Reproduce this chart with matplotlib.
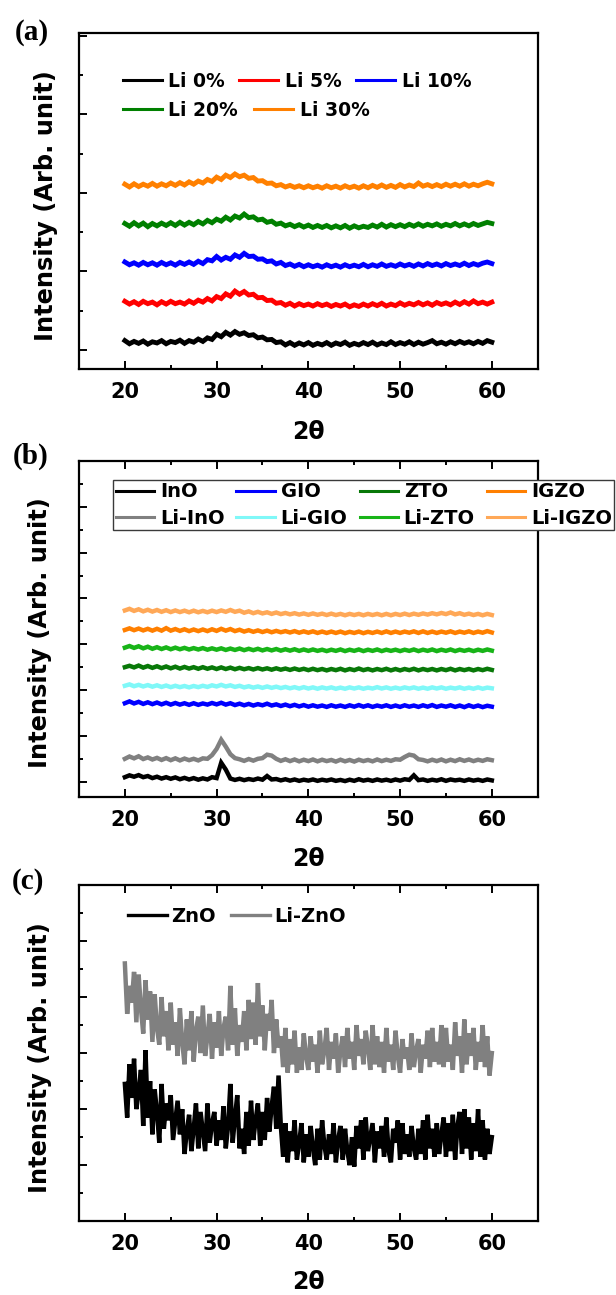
import numpy as np
import matplotlib
matplotlib.use('Agg')
import matplotlib.pyplot as plt
from matplotlib.ticker import FixedLocator, NullFormatter

# ---------------- data ----------------
two_theta_ab = np.linspace(20, 60, 81)    # 0.5 deg sampling for panels (a), (b)
two_theta_c = np.linspace(20, 60, 161)    # 0.25 deg sampling for panel (c)

labels_a = ['Li 0%', 'Li 5%', 'Li 10%', 'Li 20%', 'Li 30%']
colors_a = ['#000000', '#FF0000', '#0000FF', '#008000', '#FF8000']

li0 = [0.24, 0.16, 0.22, 0.17, 0.23, 0.15, 0.21, 0.18, 0.24, 0.16,
       0.22, 0.19, 0.25, 0.17, 0.24, 0.20, 0.28, 0.22, 0.31, 0.27,
       0.40, 0.34, 0.45, 0.38, 0.47, 0.40, 0.44, 0.37, 0.39, 0.31,
       0.33, 0.26, 0.27, 0.19, 0.21, 0.13, 0.19, 0.12, 0.18, 0.13,
       0.19, 0.12, 0.17, 0.13, 0.19, 0.12, 0.18, 0.14, 0.20, 0.12,
       0.17, 0.13, 0.19, 0.14, 0.20, 0.13, 0.18, 0.14, 0.21, 0.14,
       0.19, 0.15, 0.21, 0.14, 0.20, 0.15, 0.19, 0.24, 0.16, 0.20,
       0.15, 0.21, 0.16, 0.22, 0.17, 0.21, 0.16, 0.22, 0.17, 0.24,
       0.20]
li5 = [1.24, 1.17, 1.23, 1.16, 1.24, 1.18, 1.22, 1.15, 1.23, 1.17,
       1.24, 1.18, 1.22, 1.17, 1.25, 1.19, 1.27, 1.22, 1.31, 1.25,
       1.36, 1.31, 1.43, 1.37, 1.50, 1.42, 1.49, 1.40, 1.42, 1.33,
       1.34, 1.26, 1.27, 1.19, 1.21, 1.14, 1.19, 1.12, 1.18, 1.13,
       1.17, 1.12, 1.18, 1.13, 1.17, 1.11, 1.16, 1.12, 1.17, 1.10,
       1.15, 1.11, 1.17, 1.12, 1.18, 1.13, 1.19, 1.12, 1.17, 1.13,
       1.20, 1.14, 1.19, 1.15, 1.21, 1.15, 1.20, 1.14, 1.21, 1.16,
       1.20, 1.15, 1.22, 1.16, 1.23, 1.17, 1.25, 1.18, 1.22, 1.17,
       1.22]
li10 = [2.24, 2.17, 2.22, 2.16, 2.23, 2.17, 2.22, 2.16, 2.23, 2.17,
        2.22, 2.16, 2.23, 2.18, 2.24, 2.18, 2.26, 2.20, 2.30, 2.27,
        2.38, 2.29, 2.36, 2.31, 2.42, 2.36, 2.46, 2.38, 2.39, 2.31,
        2.32, 2.25, 2.27, 2.19, 2.23, 2.15, 2.19, 2.13, 2.18, 2.12,
        2.17, 2.12, 2.16, 2.11, 2.17, 2.12, 2.16, 2.11, 2.17, 2.12,
        2.16, 2.12, 2.18, 2.12, 2.17, 2.13, 2.19, 2.13, 2.17, 2.13,
        2.19, 2.14, 2.18, 2.13, 2.19, 2.14, 2.20, 2.15, 2.19, 2.14,
        2.20, 2.15, 2.19, 2.15, 2.21, 2.15, 2.20, 2.16, 2.21, 2.24,
        2.20]
li20 = [3.22, 3.15, 3.24, 3.16, 3.23, 3.14, 3.22, 3.16, 3.23, 3.17,
        3.24, 3.17, 3.25, 3.18, 3.25, 3.19, 3.27, 3.21, 3.30, 3.24,
        3.33, 3.28, 3.38, 3.31, 3.41, 3.36, 3.46, 3.37, 3.39, 3.31,
        3.33, 3.25, 3.28, 3.20, 3.23, 3.16, 3.20, 3.14, 3.19, 3.13,
        3.18, 3.12, 3.17, 3.12, 3.17, 3.11, 3.16, 3.11, 3.17, 3.10,
        3.16, 3.11, 3.15, 3.12, 3.18, 3.13, 3.20, 3.13, 3.19, 3.14,
        3.19, 3.14, 3.20, 3.15, 3.21, 3.15, 3.20, 3.16, 3.21, 3.15,
        3.20, 3.16, 3.22, 3.16, 3.21, 3.16, 3.22, 3.17, 3.21, 3.25,
        3.22]
li30 = [4.22, 4.15, 4.23, 4.16, 4.22, 4.17, 4.24, 4.17, 4.23, 4.18,
        4.25, 4.19, 4.26, 4.20, 4.28, 4.22, 4.30, 4.25, 4.34, 4.29,
        4.40, 4.34, 4.45, 4.39, 4.48, 4.41, 4.45, 4.37, 4.39, 4.30,
        4.31, 4.24, 4.25, 4.18, 4.21, 4.15, 4.19, 4.14, 4.18, 4.13,
        4.18, 4.13, 4.17, 4.12, 4.18, 4.13, 4.17, 4.12, 4.18, 4.13,
        4.17, 4.12, 4.18, 4.13, 4.19, 4.14, 4.20, 4.14, 4.19, 4.14,
        4.21, 4.15, 4.20, 4.16, 4.25, 4.17, 4.21, 4.16, 4.21, 4.16,
        4.22, 4.17, 4.22, 4.17, 4.23, 4.17, 4.22, 4.18, 4.23, 4.27,
        4.23]

labels_b = ['InO', 'Li-InO', 'GIO', 'Li-GIO', 'ZTO', 'Li-ZTO', 'IGZO', 'Li-IGZO']
colors_b = ['#000000', '#808080', '#0000FF', '#80F8F8', '#087808', '#18B418', '#FF7F00', '#FFA857']

ino = [0.22, 0.30, 0.24, 0.31, 0.22, 0.27, 0.18, 0.24, 0.16, 0.22,
       0.15, 0.21, 0.13, 0.19, 0.12, 0.18, 0.11, 0.17, 0.12, 0.22,
       0.18, 0.85, 0.55, 0.16, 0.10, 0.15, 0.09, 0.14, 0.10, 0.16,
       0.11, 0.27, 0.12, 0.14, 0.08, 0.13, 0.07, 0.12, 0.06, 0.11,
       0.07, 0.12, 0.06, 0.11, 0.07, 0.12, 0.06, 0.10, 0.05, 0.11,
       0.06, 0.13, 0.07, 0.11, 0.06, 0.12, 0.07, 0.11, 0.06, 0.12,
       0.07, 0.13, 0.10, 0.30, 0.09, 0.12, 0.06, 0.11, 0.07, 0.13,
       0.06, 0.12, 0.08, 0.11, 0.06, 0.12, 0.07, 0.11, 0.06, 0.12,
       0.08]
li_ino = [1.02, 1.12, 1.04, 1.13, 1.01, 1.08, 0.99, 1.06, 0.97, 1.05,
          0.96, 1.04, 0.95, 1.03, 0.96, 1.02, 0.95, 1.04, 1.02, 1.18,
          1.45, 1.85, 1.55, 1.22, 1.05, 1.00, 0.93, 1.01, 0.94, 1.02,
          1.05, 1.20, 1.16, 1.02, 0.93, 1.00, 0.92, 0.99, 0.91, 0.98,
          0.92, 0.99, 0.91, 0.98, 0.92, 0.97, 0.90, 0.98, 0.91, 0.97,
          0.90, 0.98, 0.92, 0.97, 0.91, 0.99, 0.92, 0.98, 0.93, 1.00,
          0.98, 1.10, 1.20, 1.16, 1.00, 0.97, 0.91, 0.98, 0.92, 0.99,
          0.91, 0.98, 0.92, 1.00, 0.93, 0.99, 0.92, 0.98, 0.93, 1.00,
          0.96]
gio = [3.44, 3.52, 3.43, 3.50, 3.41, 3.48, 3.40, 3.47, 3.39, 3.46,
       3.38, 3.45, 3.38, 3.44, 3.37, 3.44, 3.37, 3.43, 3.38, 3.45,
       3.39, 3.46, 3.38, 3.44, 3.36, 3.42, 3.35, 3.41, 3.34, 3.40,
       3.35, 3.42, 3.34, 3.39, 3.32, 3.38, 3.31, 3.37, 3.30, 3.36,
       3.29, 3.35, 3.29, 3.34, 3.28, 3.35, 3.29, 3.34, 3.28, 3.35,
       3.29, 3.36, 3.29, 3.35, 3.28, 3.34, 3.29, 3.35, 3.28, 3.34,
       3.28, 3.35, 3.29, 3.34, 3.28, 3.35, 3.29, 3.36, 3.28, 3.34,
       3.29, 3.35, 3.28, 3.34, 3.27, 3.35, 3.28, 3.34, 3.27, 3.33,
       3.29]
li_gio = [4.20, 4.26, 4.18, 4.24, 4.17, 4.23, 4.16, 4.22, 4.15, 4.21,
          4.14, 4.20, 4.14, 4.19, 4.13, 4.19, 4.14, 4.20, 4.15, 4.22,
          4.17, 4.24, 4.17, 4.22, 4.15, 4.20, 4.13, 4.18, 4.12, 4.17,
          4.11, 4.17, 4.11, 4.16, 4.10, 4.15, 4.09, 4.14, 4.08, 4.14,
          4.08, 4.13, 4.07, 4.13, 4.08, 4.13, 4.07, 4.12, 4.07, 4.13,
          4.08, 4.13, 4.07, 4.12, 4.08, 4.14, 4.08, 4.13, 4.07, 4.12,
          4.07, 4.13, 4.08, 4.13, 4.07, 4.12, 4.07, 4.13, 4.08, 4.13,
          4.07, 4.12, 4.08, 4.13, 4.07, 4.12, 4.07, 4.13, 4.07, 4.12,
          4.09]
zto = [5.01, 5.07, 5.00, 5.08, 4.99, 5.06, 4.98, 5.05, 4.97, 5.04,
       4.96, 5.03, 4.95, 5.02, 4.95, 5.01, 4.94, 5.01, 4.94, 5.00,
       4.93, 5.00, 4.93, 4.99, 4.92, 4.98, 4.92, 4.97, 4.91, 4.97,
       4.91, 4.96, 4.90, 4.96, 4.90, 4.95, 4.89, 4.95, 4.89, 4.94,
       4.88, 4.94, 4.88, 4.93, 4.87, 4.93, 4.88, 4.94, 4.87, 4.93,
       4.88, 4.95, 4.88, 4.93, 4.87, 4.93, 4.88, 4.94, 4.87, 4.93,
       4.87, 4.93, 4.88, 4.94, 4.87, 4.93, 4.88, 4.93, 4.87, 4.93,
       4.88, 4.94, 4.87, 4.93, 4.88, 4.93, 4.87, 4.93, 4.88, 4.94,
       4.89]
li_zto = [5.86, 5.93, 5.85, 5.92, 5.83, 5.90, 5.81, 5.88, 5.80, 5.87,
          5.79, 5.86, 5.79, 5.85, 5.78, 5.84, 5.78, 5.84, 5.77, 5.83,
          5.77, 5.83, 5.76, 5.82, 5.76, 5.82, 5.75, 5.81, 5.75, 5.81,
          5.74, 5.80, 5.74, 5.80, 5.73, 5.79, 5.73, 5.79, 5.72, 5.78,
          5.72, 5.78, 5.72, 5.77, 5.71, 5.77, 5.72, 5.78, 5.71, 5.77,
          5.72, 5.78, 5.71, 5.77, 5.72, 5.78, 5.71, 5.77, 5.72, 5.77,
          5.71, 5.77, 5.72, 5.78, 5.71, 5.77, 5.72, 5.78, 5.71, 5.77,
          5.72, 5.78, 5.71, 5.77, 5.72, 5.77, 5.71, 5.77, 5.72, 5.78,
          5.73]
igzo = [6.63, 6.70, 6.62, 6.69, 6.61, 6.68, 6.60, 6.68, 6.60, 6.71,
        6.60, 6.67, 6.59, 6.66, 6.58, 6.65, 6.58, 6.65, 6.58, 6.66,
        6.59, 6.68, 6.60, 6.67, 6.58, 6.64, 6.56, 6.62, 6.55, 6.61,
        6.54, 6.60, 6.53, 6.59, 6.53, 6.58, 6.52, 6.58, 6.51, 6.57,
        6.51, 6.57, 6.50, 6.56, 6.50, 6.56, 6.50, 6.56, 6.49, 6.55,
        6.50, 6.56, 6.49, 6.55, 6.50, 6.56, 6.50, 6.57, 6.50, 6.56,
        6.50, 6.56, 6.51, 6.57, 6.50, 6.57, 6.50, 6.56, 6.50, 6.56,
        6.51, 6.57, 6.50, 6.56, 6.51, 6.57, 6.50, 6.56, 6.51, 6.58,
        6.52]
li_igzo = [7.48, 7.55, 7.46, 7.53, 7.44, 7.51, 7.43, 7.50, 7.42, 7.49,
           7.41, 7.48, 7.41, 7.47, 7.40, 7.47, 7.40, 7.46, 7.40, 7.47,
           7.41, 7.48, 7.42, 7.50, 7.42, 7.47, 7.38, 7.44, 7.36, 7.42,
           7.35, 7.40, 7.33, 7.39, 7.32, 7.37, 7.31, 7.36, 7.30, 7.35,
           7.29, 7.35, 7.29, 7.34, 7.28, 7.34, 7.28, 7.33, 7.27, 7.33,
           7.28, 7.33, 7.27, 7.33, 7.28, 7.33, 7.27, 7.33, 7.27, 7.33,
           7.28, 7.34, 7.28, 7.34, 7.29, 7.35, 7.30, 7.36, 7.31, 7.37,
           7.32, 7.39, 7.31, 7.36, 7.29, 7.34, 7.28, 7.33, 7.27, 7.33,
           7.28]

labels_c = ['ZnO', 'Li-ZnO']
colors_c = ['#000000', '#808080']

zno = [4.9, 3.7, 5.6, 4.4,  5.8, 4.0, 4.6, 5.4,  3.4, 6.1, 3.7, 5.0,  3.1, 4.7, 3.9, 2.8,
       4.9, 3.3, 4.2, 3.6,  4.5, 2.9, 3.6, 4.3,  3.1, 4.0, 2.4, 3.2,  3.8, 2.5, 3.3, 4.2,
       2.6, 3.9, 3.2, 2.5,  4.2, 2.8, 3.5, 3.9,  2.7, 3.6, 2.9, 4.1,  2.6, 3.4, 4.9, 2.8,
       3.7, 4.5, 2.6, 3.3,  2.4, 3.9, 2.7, 4.3,  2.9, 3.6, 4.2, 2.7,  3.9, 2.9, 4.4, 3.2,
       4.1, 4.8, 3.3, 5.2,  3.4, 2.3, 3.5, 2.1,  3.2, 2.5, 3.6, 2.2,  2.8, 3.5, 2.1, 3.1,
       2.3, 3.4, 2.6, 2.0,  3.3, 2.2, 3.6, 2.7,  2.2, 3.1, 2.4, 3.5,  2.1, 2.9, 3.4, 2.2,
       3.3, 2.5, 2.0, 3.0,  1.95, 3.4, 2.6, 3.6, 2.2, 3.7, 2.5, 3.0,  3.5, 2.1, 3.2, 2.6,
       3.4, 2.3, 3.7, 2.5,  2.1, 3.3, 2.8, 3.6,  2.2, 3.5, 2.4, 3.1,  2.3, 3.4, 2.6, 2.2,
       3.3, 2.4, 3.6, 2.2,  3.8, 2.6, 3.3, 2.3,  3.5, 2.4, 3.1, 3.7,  2.3, 3.5, 2.5, 3.8,
       2.2, 3.4, 3.9, 2.4,  4.0, 2.6, 3.7, 2.2,  3.5, 2.5, 4.0, 2.3,  3.6, 2.2, 3.3, 2.4,
       3.0]
li_zno = [9.2, 7.4, 8.4, 7.8,  8.9, 7.1, 8.8, 7.6,  6.7, 8.6, 7.2, 8.2,  6.4, 8.1, 6.9, 6.3,
          8.0, 6.6, 7.5, 6.1,  7.8, 6.3, 7.1, 5.9,  7.6, 6.4, 5.6, 7.2,  6.1, 7.5, 5.7, 6.8,
          7.3, 6.0, 7.7, 5.9,  6.6, 7.4, 5.8, 7.1,  6.2, 7.5, 5.9, 6.9,  7.3, 6.1, 8.4, 6.3,
          7.6, 5.9, 7.0, 6.4,  7.5, 6.1, 7.9, 6.5,  7.8, 6.3, 8.5, 6.6,  7.7, 6.1, 7.4, 6.8,
          7.9, 6.0, 7.2, 6.2,  6.6, 5.5, 6.9, 5.3,  6.5, 5.6, 6.8, 5.3,  6.2, 5.4, 6.7, 5.9,
          5.4, 6.6, 5.7, 6.3,  5.3, 6.8, 5.6, 6.1,  6.9, 5.4, 6.4, 5.8,  6.7, 5.3, 6.1, 6.6,
          5.5, 6.9, 5.8, 6.4,  5.4, 7.0, 5.9, 6.5,  5.6, 6.8, 6.2, 5.4,  7.0, 5.6, 6.6, 5.5,
          6.4, 5.3, 6.9, 5.7,  6.3, 5.4, 6.8, 5.9,  5.3, 6.5, 5.8, 6.2,  5.4, 6.7, 5.5, 6.1,
          6.5, 5.3, 6.3, 5.8,  6.8, 5.5, 6.9, 5.7,  6.4, 5.6, 7.0, 5.5,  6.9, 5.7, 6.3, 5.4,
          7.1, 5.9, 6.6, 5.3,  7.2, 5.6, 6.7, 5.9,  6.9, 5.4, 6.4, 5.7,  7.0, 5.5, 6.6, 5.2,
          6.0]

x_major = [20, 30, 40, 50, 60]
x_minor = [25, 35, 45, 55]
x_label = '2θ'
y_label = 'Intensity (Arb. unit)'

# ---------------- figure ----------------
plt.rcParams['font.family'] = ['DejaVu Sans']
plt.rcParams['font.weight'] = 'bold'

W, H = 616, 1295
fig = plt.figure(figsize=(W / 100, H / 100), dpi=100)


def rect(top_px, bottom_px, left_px=79.0, right_px=537.7):
    return [left_px / W, 1 - bottom_px / H, (right_px - left_px) / W, (bottom_px - top_px) / H]


def style(ax, ylim, ymaj, ymin, top_ticks, ylab_x, xlab_y):
    ax.set_xlim(15, 65)
    ax.set_ylim(*ylim)
    ax.xaxis.set_major_locator(FixedLocator(x_major))
    ax.xaxis.set_minor_locator(FixedLocator(x_minor))
    ax.yaxis.set_major_locator(FixedLocator(ymaj))
    ax.yaxis.set_minor_locator(FixedLocator(ymin))
    ax.yaxis.set_major_formatter(NullFormatter())
    ax.tick_params(axis='both', which='both', direction='in', width=1.4, colors='black')
    ax.tick_params(which='major', length=6)
    ax.tick_params(which='minor', length=3)
    ax.tick_params(axis='x', which='both', top=top_ticks, bottom=True, labelsize=15, pad=9.5)
    ax.tick_params(axis='y', which='both', left=True, right=False)
    for lab in ax.get_xticklabels():
        lab.set_fontweight('bold')
    for s in ax.spines.values():
        s.set_linewidth(1.6)
    ax.set_xlabel(x_label, fontsize=17, fontweight='bold')
    ax.set_ylabel(y_label, fontsize=17.4, fontweight='bold')
    ax.xaxis.set_label_coords(0.5, xlab_y)
    ax.yaxis.set_label_coords(ylab_x, 0.488)


# ----- panel (a)
ax_a = fig.add_axes(rect(33.3, 369.3))
series_a = [li0, li5, li10, li20, li30]
lines_a = []
for ys, c, lab in zip(series_a, colors_a, labels_a):
    ln, = ax_a.plot(two_theta_ab, ys, color=c, lw=3.5, label=lab, solid_joinstyle='miter')
    lines_a.append(ln)
style(ax_a, (-0.49, 8.06), [0, 2, 4, 6, 8], [1, 3, 5, 7], False, -0.046, -0.152)

leg_kw = dict(frameon=False, borderpad=0, borderaxespad=0, loc='center left',
              prop={'weight': 'bold', 'size': 13.5}, handlelength=2.08, handletextpad=0.35)
leg_a1 = ax_a.legend(handles=lines_a[:3], labels=labels_a[:3], ncol=3, columnspacing=0.77,
                     bbox_to_anchor=(0.0953, 0.858), **leg_kw)
ax_a.add_artist(leg_a1)
leg_a2 = ax_a.legend(handles=lines_a[3:], labels=labels_a[3:], ncol=2, columnspacing=0.85,
                     bbox_to_anchor=(0.0953, 0.7717), **leg_kw)
for lg in (leg_a1, leg_a2):
    for h in lg.legend_handles:
        h.set_linewidth(2.2)

# ----- panel (b)
ax_b = fig.add_axes(rect(460.7, 796.7))
series_b = [ino, li_ino, gio, li_gio, zto, li_zto, igzo, li_igzo]
lines_b = []
for ys, c, lab in zip(series_b, colors_b, labels_b):
    ln, = ax_b.plot(two_theta_ab, ys, color=c, lw=3.2, label=lab, solid_joinstyle='miter')
    lines_b.append(ln)
style(ax_b, (-0.63, 14.0), [0, 2, 4, 6, 8, 10, 12], [1, 3, 5, 7, 9, 11, 13], True, -0.059, -0.150)
leg_b = ax_b.legend(handles=lines_b, labels=labels_b, ncol=4, loc='upper left',
                    bbox_to_anchor=(0.0748, 0.9426), borderaxespad=0, borderpad=0.12,
                    labelspacing=0.38, handlelength=1.96, handletextpad=0.31,
                    columnspacing=0.62, fancybox=False, framealpha=1.0,
                    edgecolor='#3a3a3a', prop={'weight': 'bold', 'size': 14})
leg_b.get_frame().set_linewidth(1.0)
for h in leg_b.legend_handles:
    h.set_linewidth(2.2)

# ----- panel (c)
ax_c = fig.add_axes(rect(885.0, 1221.2))
series_c = [zno, li_zno]
lines_c = []
for ys, c, lab in zip(series_c, colors_c, labels_c):
    ln, = ax_c.plot(two_theta_c, ys, color=c, lw=3.2, label=lab, solid_joinstyle='miter')
    lines_c.append(ln)
style(ax_c, (0, 12), [2, 4, 6, 8, 10], [1, 3, 5, 7, 9, 11], True, -0.059, -0.146)
leg_c = ax_c.legend(handles=lines_c, labels=labels_c, ncol=2, loc='center left',
                    bbox_to_anchor=(0.1075, 0.9057), frameon=False, borderpad=0,
                    borderaxespad=0, handlelength=2.0, handletextpad=0.2, columnspacing=0.8,
                    prop={'weight': 'bold', 'size': 14})
for h in leg_c.legend_handles:
    h.set_linewidth(2.4)

# ----- panel letters
for txt, xp, yb in [('(a)', 15, 40), ('(b)', 13, 463.5), ('(c)', 12, 888.5)]:
    fig.text(xp / W, 1 - yb / H, txt, family=['Liberation Serif', 'DejaVu Serif'],
             fontweight='bold', fontsize=21, va='baseline', ha='left')

fig.savefig('out.png', dpi=100)
